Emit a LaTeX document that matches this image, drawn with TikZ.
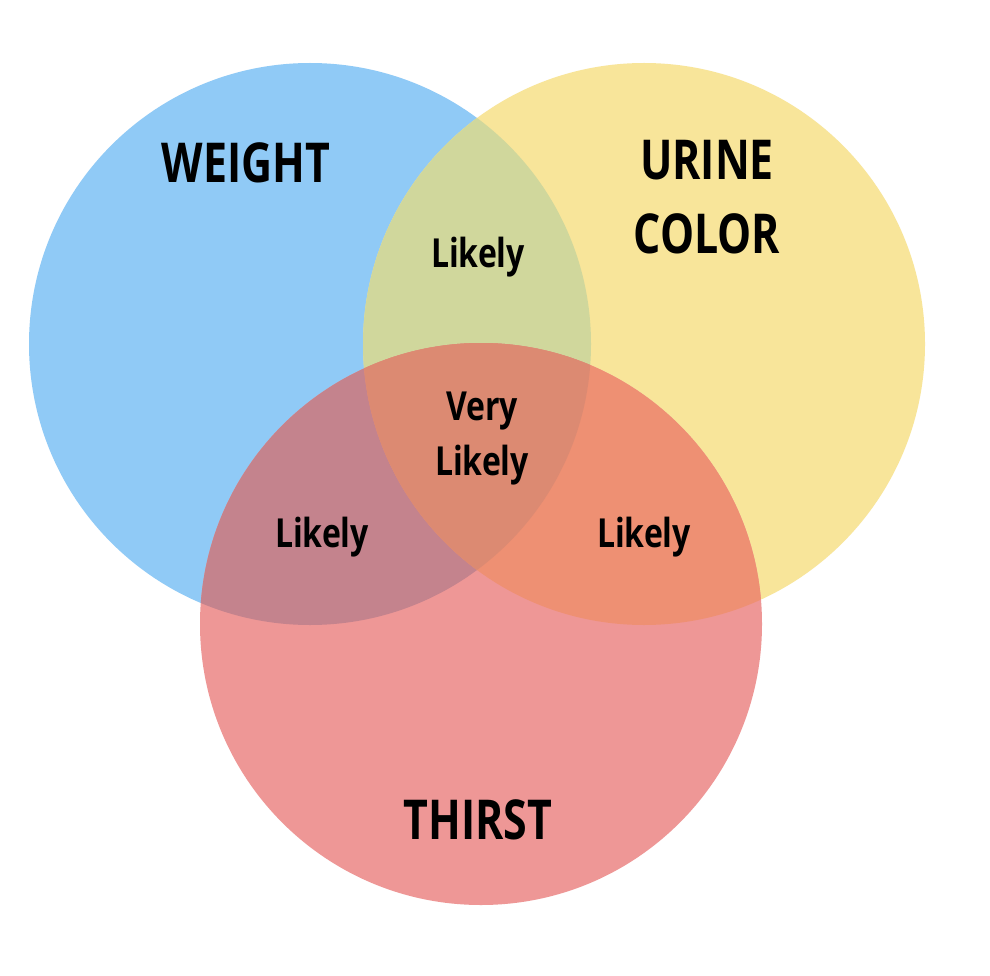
\documentclass[tikz,border=0pt]{standalone}
\usepackage{fontspec}
\setmainfont{Open Sans}[FakeStretch=0.82]
\newfontfamily\bigfont{Open Sans}[FakeStretch=0.78]
\newfontfamily\smallfont{Open Sans}[FakeStretch=0.80]
\definecolor{cblue}{HTML}{90CAF6}
\definecolor{cyellow}{HTML}{F8E59A}
\definecolor{cred}{HTML}{EE9796}
\definecolor{cby}{HTML}{D0D79C}
\definecolor{cbr}{HTML}{C4838D}
\definecolor{cyr}{HTML}{EE9073}
\definecolor{call}{HTML}{DC8A72}
\tikzset{
  big/.style={font=\bigfont\fontsize{55}{74}\selectfont\bfseries, align=center, text=black},
  small/.style={font=\smallfont\fontsize{40}{55}\selectfont\bfseries, align=center, text=black},
}
\begin{document}
\begin{tikzpicture}[x=1pt,y=-1pt]
\useasboundingbox (0,0) rectangle (990,976);
\fill[white] (0,0) rectangle (990,976);
\def\rr{281}
\coordinate (B) at (310,344);
\coordinate (Y) at (644,344);
\coordinate (R) at (481,624);
\fill[cblue] (B) circle (\rr);
\fill[cyellow] (Y) circle (\rr);
\fill[cred] (R) circle (\rr);
\begin{scope}
  \clip (B) circle (\rr);
  \fill[cby] (Y) circle (\rr);
  \fill[cbr] (R) circle (\rr);
\end{scope}
\begin{scope}
  \clip (Y) circle (\rr);
  \fill[cyr] (R) circle (\rr);
\end{scope}
\begin{scope}
  \clip (B) circle (\rr);
  \clip (Y) circle (\rr);
  \fill[call] (R) circle (\rr);
\end{scope}
\node[big] (weight) at (246,163) {WEIGHT};
\node[big] (urine) at (707,197) {URINE\\COLOR};
\node[small] (l1) at (478,257) {Likely};
\node[small] (vl) at (482,439) {Very\\Likely};
\node[small] (l2) at (322,537) {Likely};
\node[small] (l3) at (644,537) {Likely};
\node[big] (thirst) at (478,820) {THIRST};
\end{tikzpicture}
\end{document}
